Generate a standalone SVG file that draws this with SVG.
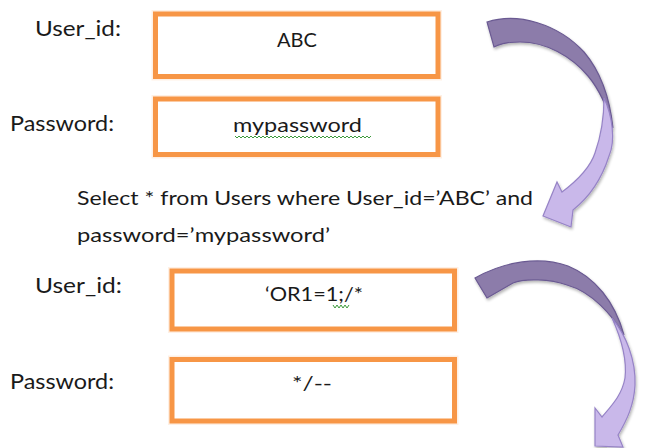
<svg xmlns="http://www.w3.org/2000/svg" width="663" height="448" viewBox="0 0 663 448">
<style>
.box{fill:#ffffff;stroke:#F79646;stroke-width:5}
.glow{fill:none;stroke:#FBD5B5;stroke-width:8;opacity:0.35}
.t{font-family:Lato,"Open Sans","Liberation Sans",sans-serif;fill:#1a1a1a;font-size:21px}
.v{font-family:Lato,"Open Sans","Liberation Sans",sans-serif;fill:#1a1a1a;font-size:20px}
.dark{fill:#8C7BAA;stroke:#6A5A92;stroke-width:1.2}
.light{fill:#C9B8EA;stroke:#9683C6;stroke-width:1.2}
.wavy{fill:none;stroke:#3C9A3C;stroke-width:1}
</style>
<defs>
<filter id="sh" x="-20%" y="-20%" width="140%" height="140%">
<feGaussianBlur in="SourceAlpha" stdDeviation="1.5"/>
<feOffset dx="1" dy="2" result="b"/>
<feComponentTransfer><feFuncA type="linear" slope="0.3"/></feComponentTransfer>
<feMerge><feMergeNode/><feMergeNode in="SourceGraphic"/></feMerge>
</filter>
</defs>
<rect width="663" height="448" fill="#ffffff"/>

<g id="label-userid-1"><text class="t" x="35" y="36" textLength="86" lengthAdjust="spacingAndGlyphs">User_id:</text></g>
<g id="label-password-1"><text class="t" x="10" y="131" textLength="104" lengthAdjust="spacingAndGlyphs">Password:</text></g>

<g id="box-userid-1">
<rect class="glow" x="155.5" y="14" width="282.5" height="62.5"/>
<rect class="box" x="155.5" y="14" width="282.5" height="62.5"/>
<text class="v" x="297" y="47" text-anchor="middle">ABC</text>
</g>
<g id="box-password-1">
<rect class="glow" x="155.5" y="99" width="282.5" height="55.5"/>
<rect class="box" x="155.5" y="99" width="282.5" height="55.5"/>
<text class="v" x="233" y="132" textLength="129" lengthAdjust="spacingAndGlyphs">mypassword</text>
<path class="wavy" d="M235,136 l2,2 l2,-2 l2,2 l2,-2 l2,2 l2,-2 l2,2 l2,-2 l2,2 l2,-2 l2,2 l2,-2 l2,2 l2,-2 l2,2 l2,-2 l2,2 l2,-2 l2,2 l2,-2 l2,2 l2,-2 l2,2 l2,-2 l2,2 l2,-2 l2,2 l2,-2 l2,2 l2,-2 l2,2 l2,-2 l2,2 l2,-2 l2,2 l2,-2 l2,2 l2,-2 l2,2 l2,-2 l2,2 l2,-2 l2,2 l2,-2 l2,2 l2,-2 l2,2 l2,-2 l2,2 l2,-2 l2,2 l2,-2 l2,2 l2,-2 l2,2 l2,-2 l2,2 l2,-2 l2,2 l2,-2 l2,2 l2,-2 l2,2 l2,-2 l2,2 l2,-2 l2,2 l2,-2"/>
</g>

<g id="query">
<text class="v" x="77" y="205" textLength="456" lengthAdjust="spacingAndGlyphs">Select * from Users where User_id=’ABC’ and</text>
<text class="v" x="77" y="242" textLength="253" lengthAdjust="spacingAndGlyphs">password=’mypassword’</text>
</g>

<g id="label-userid-2"><text class="t" x="35" y="293" textLength="87" lengthAdjust="spacingAndGlyphs">User_id:</text></g>
<g id="label-password-2"><text class="t" x="10" y="389" textLength="104" lengthAdjust="spacingAndGlyphs">Password:</text></g>

<g id="box-userid-2">
<rect class="glow" x="172" y="271" width="282.5" height="58"/>
<rect class="box" x="172" y="271" width="282.5" height="58"/>
<text class="v" x="265" y="301" textLength="98" lengthAdjust="spacingAndGlyphs">‘OR1=1;/*</text>
<path class="wavy" d="M333,305 l2,3 l2,-3 l2,3 l2,-3 l2,3 l2,-3 l2,3 l2,-3"/>
</g>
<g id="box-password-2">
<rect class="glow" x="172" y="359.5" width="282.5" height="61.5"/>
<rect class="box" x="172" y="359.5" width="282.5" height="61.5"/>
<text class="v" x="292" y="390" textLength="40" lengthAdjust="spacingAndGlyphs">*/--</text>
</g>

<g id="connectors" filter="url(#sh)">
<g id="arrow-1">
<path class="dark" d="M487,22 C518,12 558,24 584,52 C601,72 610,100 613,128 C607,106 598,88 588,76 C571,56 546,42 520,42 C508,42 500,44 494,47 Z"/>
<path class="light" d="M604,98 C612,115 616,140 609,156 C603,175 592,195 573,210 L571,227 L543,216 L557,182 L562,192 C578,180 590,168 595,153 C601,136 604,118 604,98 Z"/>
</g>
<g id="arrow-2">
<path class="dark" d="M475,278 C505,261 540,256 568,266 C595,277 615,302 624,335 C612,315 592,292 567,285 C550,279 525,278 513,283 L487,298 Z"/>
<path class="light" d="M612,318 C626,335 636,360 635,385 C634,405 627,420 618,435 L623,447 L595,446 L595,408 L602,417 C612,405 622,395 625,378 C627,360 622,340 612,318 Z"/>
</g>
</g>
</svg>
